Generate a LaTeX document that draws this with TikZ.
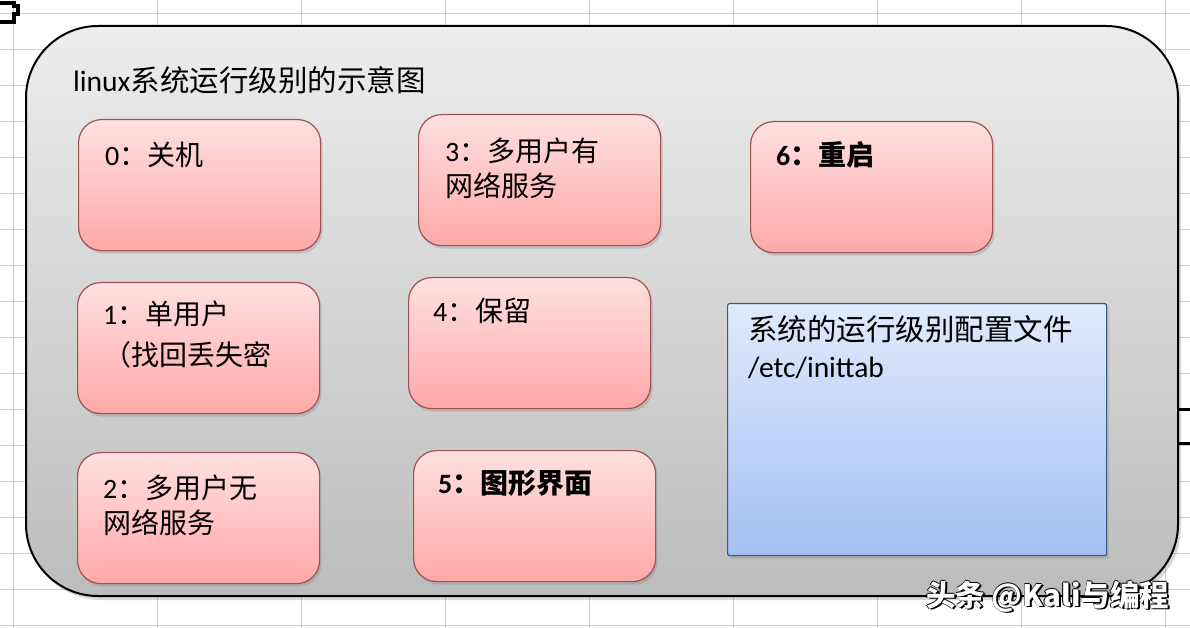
\documentclass[tikz,border=0pt]{standalone}
\usepackage{fontspec}
\setmainfont{Carlito}
\newfontfamily\cjk{Noto Sans CJK SC}
\newcommand{\zh}[1]{{\cjk #1}}
\usetikzlibrary{positioning,shadows}

\definecolor{gridgray}{RGB}{205,205,205}
\definecolor{frametop}{RGB}{237,237,237}
\definecolor{framebot}{RGB}{188,188,188}
\definecolor{pinktop}{RGB}{255,224,224}
\definecolor{pinkbot}{RGB}{255,168,168}
\definecolor{pinkline}{RGB}{160,82,82}
\definecolor{bluetop}{RGB}{224,234,252}
\definecolor{bluebot}{RGB}{162,192,242}
\definecolor{blueline}{RGB}{62,90,128}

\tikzset{
	level/.style={draw=pinkline, line width=1.2bp, rounded corners=23bp,
		top color=pinktop, bottom color=pinkbot,
		minimum width=242bp, minimum height=131bp, inner sep=0pt, anchor=north west,
		drop shadow={shadow xshift=2bp, shadow yshift=-3bp, opacity=0.3}},
	lbl/.style={anchor=base west, inner sep=0pt, font=\fontsize{28bp}{35bp}\selectfont},
	big/.style={anchor=base west, inner sep=0pt, font=\fontsize{29.5bp}{36bp}\selectfont},
	wmark/.style={anchor=base west, inner sep=0pt, font=\fontsize{29.5bp}{32bp}\selectfont\cjk\bfseries},
}

\begin{document}
\begin{tikzpicture}[x=1bp, y=-1bp]
	\useasboundingbox (0,0) rectangle (1190,628);
	\fill[white] (0,0) rectangle (1190,628);
	
	% sheet grid
	\foreach \gx in {0,...,8}
		\draw[gridgray, line width=0.8bp] (13+144*\gx,0) -- (13+144*\gx,628);
	\foreach \gy in {0,...,17}
		\draw[gridgray, line width=0.8bp] (0,13+36*\gy) -- (1190,13+36*\gy);
	\draw[line width=3.5bp] (0,3) -- (14,3) -- (14,6) -- (18,6) -- (18,14) -- (14,14) -- (14,22) -- (0,22);
	
	% outer frame
	\node[draw, line width=2bp, rounded corners=72bp, top color=frametop, bottom color=framebot,
		minimum width=1152bp, minimum height=570bp, inner sep=0pt, anchor=north west,
		drop shadow={shadow xshift=3bp, shadow yshift=-4bp, opacity=0.3}] (frame) at (25,25) {};
	\coordinate (m1) at (1190,409);
	\coordinate (m2) at (1190,443);
	\draw[line width=3bp] (frame.east |- m1) -- (m1);
	\draw[line width=3bp] (frame.east |- m2) -- (m2);
	
	\node[big] (title) at (73,92) {linux\zh{系统运行级别的示意图}};
	
	% run levels
	\node[level] (l0) at (78,119) {};
	\node[level] (l3) at (418,114) {};
	\node[level] (l6) at (750,121) {};
	\node[level] (l1) at (77,282) {};
	\node[level] (l4) at (408,277) {};
	\node[level] (l2) at (77,452) {};
	\node[level] (l5) at (413,450) {};
	\node[draw=blueline, line width=1.2bp, rounded corners=2bp, top color=bluetop, bottom color=bluebot,
		minimum width=379bp, minimum height=252bp, inner sep=0pt, anchor=north west,
		drop shadow={shadow xshift=2bp, shadow yshift=-3bp, opacity=0.3}] (conf) at (727,303) {};
	
	\node[lbl] (t0) at ([shift={(27,47)}]l0.north west) {0\zh{：关机}};
	\node[lbl] (t3a) at ([shift={(27,48)}]l3.north west) {3\zh{：多用户有}};
	\node[lbl] (t3b) at ([yshift=-35bp]t3a.base west) {\zh{网络服务}};
	\node[lbl, font=\fontsize{28bp}{35bp}\selectfont\bfseries] (t6) at ([shift={(26,45)}]l6.north west) {6\zh{：重启}};
	\node[lbl] (t1a) at ([shift={(26,43)}]l1.north west) {1\zh{：单用户}};
	\node[lbl] (t1b) at ([yshift=-40bp]t1a.base west) {\zh{（找回丢失密}};
	\node[lbl] (t4) at ([shift={(25,45)}]l4.north west) {4\zh{：保留}};
	\node[lbl] (t2a) at ([shift={(26,46)}]l2.north west) {2\zh{：多用户无}};
	\node[lbl] (t2b) at ([yshift=-35bp]t2a.base west) {\zh{网络服务}};
	\node[lbl, font=\fontsize{28bp}{35bp}\selectfont\bfseries] (t5) at ([shift={(25,43)}]l5.north west) {5\zh{：图形界面}};
	
	\node[big] (c1) at ([shift={(21,38)}]conf.north west) {\zh{系统的运行级别配置文件}};
	\node[big] (c2) at ([yshift=-36bp]c1.base west) {/etc/inittab};
	
	% watermark, white with dark edge
	\foreach \dx/\dy [count=\n] in {1.8/1.8, -0.6/0, 0.6/0, 0/-0.6, 0/0.6}
		\node[wmark] (wm-\n) at (926+\dx,606+\dy) {头条 @Kali与编程};
	\node[wmark, white] (wm) at (926,606) {头条 @Kali与编程};
\end{tikzpicture}
\end{document}
